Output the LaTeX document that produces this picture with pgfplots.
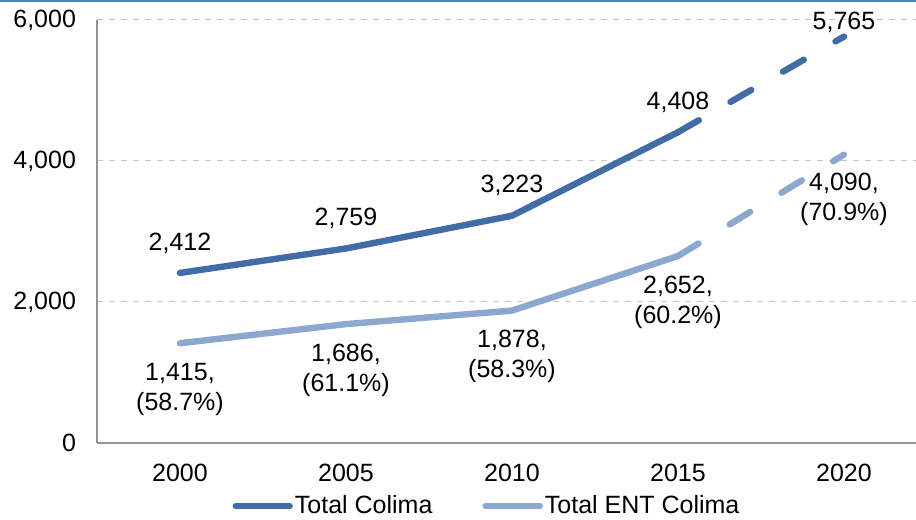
\documentclass[border=0pt]{standalone}
\usepackage{fontspec}
\setmainfont{Liberation Sans}
\usepackage{pgfplots}
\pgfplotsset{compat=1.18}
\usetikzlibrary{calc}
\definecolor{darkline}{RGB}{65,108,166}
\definecolor{lightline}{RGB}{142,167,206}
\definecolor{topblue}{RGB}{79,129,189}

\begin{document}
\begin{tikzpicture}[font=\fontsize{12.5}{15}\selectfont]
\begin{axis}[
  scale only axis, width=409.5pt, height=211.5pt,
  xmin=-0.5, xmax=4.434, ymin=0, ymax=6000,
  axis x line*=bottom, axis y line*=left,
  axis line style={draw=gray!85, line width=0.6pt},
  xtick={0,...,4}, xticklabels={2000,2005,2010,2015,2020},
  ytick={0,2000,4000,6000},
  major tick length=0pt,
  ymajorgrids, grid style={dashed, gray!45, line width=0.5pt},
  yticklabel style={/pgf/number format/1000 sep={,}, /pgf/number format/assume math mode=true, xshift=-7pt},
  xticklabel style={yshift=-7pt},
  legend style={draw=none, fill=none, at={(0.165,-0.149)}, anchor=west,
    legend columns=2, inner sep=0pt, nodes={inner sep=1pt, text=black},
    /tikz/every even column/.append style={column sep=24pt}},
  legend cell align=left,
  legend image code/.code={\draw[#1] (0pt,0pt) -- (27pt,0pt);},
  point meta=explicit symbolic,
  every node near coord/.append style={text=black, anchor=center, align=center},
]
\addlegendimage{darkline, line width=3.2pt, line cap=round}
\addlegendentry{Total Colima}
\addlegendimage{lightline, line width=3.2pt, line cap=round}
\addlegendentry{Total ENT Colima}

% Total Colima, observed
\addplot[forget plot, darkline, line width=3.2pt, line join=round, line cap=round,
  nodes near coords, every node near coord/.append style={yshift=15pt}]
  coordinates {(0,2412)[2,412] (1,2759)[2,759] (2,3223)[3,223] (3,4408)[4,408]};
% Total Colima, projected
\addplot[forget plot, darkline, line width=3.2pt, line cap=round, dash pattern=on 12pt off 18.3pt,
  nodes near coords, every node near coord/.append style={yshift=7.3pt}]
  coordinates {(3,4408)[] (4,5765)[5,765]};

% Total ENT Colima, observed
\addplot[forget plot, lightline, line width=3.2pt, line join=round, line cap=round,
  nodes near coords, every node near coord/.append style={yshift=-23pt}]
  coordinates {(0,1415)[{1,415,\\(58.7\%)}] (1,1686)[{1,686,\\(61.1\%)}]
               (2,1878)[{1,878,\\(58.3\%)}] (3,2652)[{2,652,\\(60.2\%)}]};
% Total ENT Colima, projected
\addplot[forget plot, lightline, line width=3.2pt, line cap=round, dash pattern=on 12pt off 18.3pt,
  nodes near coords, every node near coord/.append style={yshift=-22.5pt}]
  coordinates {(3,2652)[] (4,4090)[{4,090,\\(70.9\%)}]};

\coordinate (bl) at (rel axis cs:0,0);
\coordinate (tr) at (rel axis cs:1,1);
\end{axis}
\pgfresetboundingbox
\path[use as bounding box] ($(bl)+(-48.5pt,-38.5pt)$) rectangle ($(tr)+(0pt,10pt)$);
\draw[topblue, line width=1pt] ($(bl|-tr)+(-48.5pt,9.5pt)$) -- ($(tr)+(0pt,9.5pt)$);
\end{tikzpicture}
\end{document}
